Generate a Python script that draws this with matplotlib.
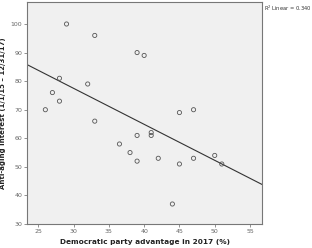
import matplotlib
matplotlib.use("Agg")
import matplotlib.pyplot as plt
import numpy as np

# democratic party advantage (%) vs anti-aging interest
dem_adv = [29, 33, 39, 40, 28, 32, 27, 28, 26, 33, 45, 47, 36.5, 39, 38, 39,
           41, 41, 42, 45, 47, 50, 51, 44]
interest = [100, 96, 90, 89, 81, 79, 76, 73, 70, 66, 69, 70, 58, 61, 55, 52,
            62, 61, 53, 51, 53, 54, 51, 37]
x_ticks = [25, 30, 35, 40, 45, 50, 55]
y_ticks = [30, 40, 50, 60, 70, 80, 90, 100]
r2_label = "R$^2$ Linear = 0.340"

plt.rcParams["font.family"] = "DejaVu Sans"

fig = plt.figure(figsize=(3.12, 2.48), dpi=100)
ax = fig.add_axes([27 / 312, 24 / 248, 235 / 312, 222 / 248])
ax.set_facecolor("#f0f0f0")

x = np.array(dem_adv)
y = np.array(interest)
ax.scatter(x, y, s=9, facecolors="none", edgecolors="#555555", linewidths=0.6, zorder=3)

slope, intercept = np.polyfit(x, y, 1)
xlim = (23.4, 56.7)
xs = np.array(xlim)
ax.plot(xs, intercept + slope * xs, color="#333333", lw=0.8, zorder=2)

ax.set_xlim(*xlim)
ax.set_ylim(30, 107.7)
ax.set_xticks(x_ticks)
ax.set_yticks(y_ticks)
ax.tick_params(labelsize=4.5, colors="#666666", length=2, width=0.5, pad=1.5)
for s in ax.spines.values():
    s.set_color("#777777")
    s.set_linewidth(0.8)

ax.set_xlabel("Democratic party advantage in 2017 (%)", fontsize=5.3,
              fontweight="bold", color="#222222", labelpad=4)
ax.set_ylabel("Anti-aging interest (1/1/15 \u2013 12/31/17)", fontsize=5,
              fontweight="bold", color="#222222", labelpad=3)

fig.text(264 / 312, 1 - 8 / 248, r2_label, fontsize=3.7,
         color="#333333", ha="left", va="center")

fig.savefig("out.png", dpi=100)
